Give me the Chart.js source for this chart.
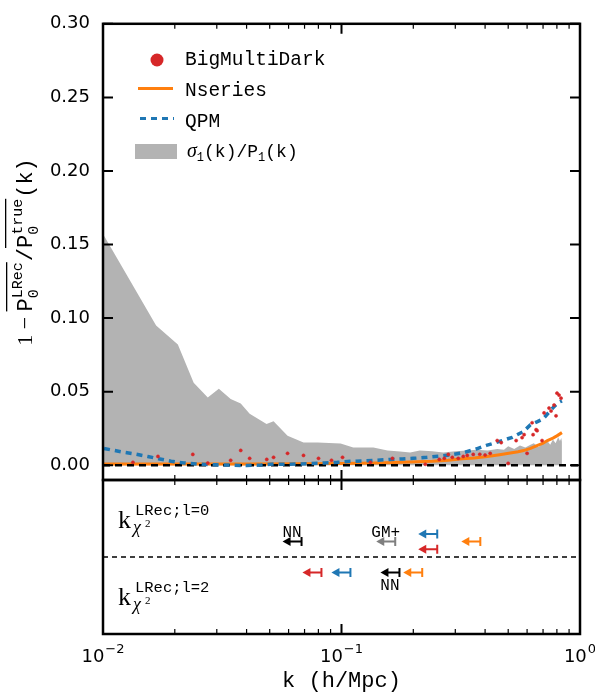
<!DOCTYPE html>
<html lang="en">
<head>
<meta charset="UTF-8">
<title>LRec residuals</title>
<script src="https://cdn.jsdelivr.net/npm/chart.js"></script>
<style>
  body { margin: 0; background: #fff; }
  #wrap { position: relative; width: 595px; height: 694px; }
  canvas { position: absolute; left: 0; top: 0; }
</style>
</head>
<body>
<div id="wrap">
  <canvas id="top" width="595" height="694"></canvas>
  <canvas id="bottom" width="595" height="694"></canvas>
</div>
<script>
// ---- data ----
const seriesNames = ['BigMultiDark', 'Nseries', 'QPM'];

// sigma_1(k)/P_1(k) band
const sigmaK = [0.0101, 0.0167, 0.0206, 0.0240, 0.0275, 0.0306, 0.0343, 0.0378, 0.0412, 0.0485, 0.0519, 0.0594,
  0.0693, 0.0794, 0.0991, 0.112, 0.136, 0.156, 0.176, 0.194, 0.213, 0.240, 0.267, 0.30, 0.335, 0.37, 0.41,
  0.45, 0.48, 0.50, 0.53, 0.56, 0.59, 0.62, 0.64, 0.67, 0.70, 0.73, 0.75, 0.77, 0.79, 0.81, 0.824, 0.835, 0.84];
const sigmaV = [0.156, 0.095, 0.082, 0.056, 0.046, 0.052, 0.045, 0.042, 0.035, 0.028, 0.030, 0.020,
  0.0155, 0.0155, 0.0148, 0.012, 0.012, 0.010, 0.0094, 0.0087, 0.010, 0.0095, 0.0087, 0.0095, 0.010, 0.0105, 0.010,
  0.011, 0.0105, 0.013, 0.011, 0.0135, 0.012, 0.014, 0.015, 0.0125, 0.015, 0.0165, 0.014, 0.0175, 0.015, 0.019, 0.0165, 0.0185, 0.016];

// Nseries
const nseriesK = [0.01, 0.02, 0.04, 0.07, 0.10, 0.14, 0.18, 0.24, 0.28, 0.32, 0.36, 0.40, 0.43, 0.46, 0.51,
  0.55, 0.58, 0.62, 0.66, 0.70, 0.73, 0.77, 0.80, 0.84];
const nseriesV = [0.0008, 0.0008, 0.0009, 0.0010, 0.0012, 0.0016, 0.0020, 0.0027, 0.0035, 0.0045, 0.0050, 0.0058,
  0.0065, 0.0072, 0.0084, 0.0092, 0.0100, 0.0115, 0.0134, 0.0150, 0.0168, 0.0185, 0.0200, 0.0222];

// QPM
const qpmK = [0.0101, 0.0119, 0.0135, 0.0154, 0.0171, 0.0193, 0.0218, 0.025, 0.030, 0.035, 0.040, 0.046, 0.052,
  0.060, 0.074, 0.085, 0.096, 0.109, 0.125, 0.141, 0.160, 0.180, 0.200, 0.228, 0.255, 0.284, 0.322, 0.369,
  0.405, 0.46, 0.52, 0.58, 0.62, 0.66, 0.70, 0.75, 0.78, 0.81, 0.84];
const qpmV = [0.0114, 0.0092, 0.0078, 0.0060, 0.0044, 0.0028, 0.0016, 0.0008, 0.0003, 0.0001, -0.0002, 0.0002, 0.0008,
  0.0006, 0.0012, 0.0016, 0.0020, 0.0027, 0.0030, 0.0034, 0.0040, 0.0043, 0.0047, 0.0054, 0.0062, 0.0070, 0.0084, 0.0112,
  0.0135, 0.0162, 0.0190, 0.0230, 0.0275, 0.0295, 0.0315, 0.0370, 0.0400, 0.0425, 0.0438];

// BigMultiDark points
const bmdK = [0.01335, 0.0170, 0.0238, 0.0275, 0.0343, 0.0378, 0.0412, 0.0486, 0.0519, 0.0594, 0.0693, 0.0801,
  0.0908, 0.1010, 0.1322, 0.1635, 0.2246, 0.2570, 0.2698, 0.2804, 0.2914, 0.3087, 0.3239, 0.3367, 0.3567,
  0.38, 0.40, 0.4202, 0.4496, 0.4673, 0.4998, 0.5398, 0.5718, 0.5830, 0.6000, 0.6298, 0.6358, 0.6545, 0.6609,
  0.6934, 0.7069, 0.7417, 0.7562, 0.7783, 0.7934, 0.8011, 0.8166, 0.8325];
const bmdV = [0.0020, 0.0060, 0.0074, 0.0015, 0.0034, 0.0101, 0.0047, 0.0040, 0.0054, 0.0081, 0.0067, 0.0047,
  0.0034, 0.0054, 0.0020, 0.0047, 0.0007, 0.0040, 0.0047, 0.0074, 0.0054, 0.0047, 0.0060, 0.0067, 0.0074,
  0.0075, 0.0070, 0.0081, 0.0168, 0.0154, 0.0013, 0.0168, 0.0188, 0.0208, 0.0081, 0.0289, 0.0208, 0.0242, 0.0235,
  0.0168, 0.0356, 0.0389, 0.0369, 0.0409, 0.0336, 0.0490, 0.0477, 0.0456];

const zeroK = [0.01, 1];
const zeroV = [0, 0];

// k_chi2 limits (bottom panel)
const l0Sets = ['NN', 'GM+', 'QPM', 'BigMultiDark', 'Nseries'];
const l0K = [0.068, 0.168, 0.252, 0.252, 0.382];
const l0Row = [0.2, 0.2, 0.3, 0.1, 0.2];
const l0Tag = ['NN', 'GM+', '', '', ''];
const l2Sets = ['BigMultiDark', 'QPM', 'NN', 'Nseries'];
const l2K = [0.0824, 0.109, 0.175, 0.218];
const l2Row = [-0.2, -0.2, -0.2, -0.2];
const l2Tag = ['', '', 'NN', ''];

const yTicks = [0, 0.05, 0.10, 0.15, 0.20, 0.25, 0.30];
const xMajor = [0.01, 0.1, 1];
const xMajorLabels = [['10', '\u22122'], ['10', '\u22121'], ['10', '0']];
const xMinor = [0.02, 0.03, 0.04, 0.05, 0.06, 0.07, 0.08, 0.09, 0.2, 0.3, 0.4, 0.5, 0.6, 0.7, 0.8, 0.9];

// ---- styles ----
const RED = '#d62728', BLUE = '#1f77b4', ORANGE = '#ff7f0e', GRAY = '#b3b3b3';
const MONO = '"Liberation Mono", "DejaVu Sans Mono", monospace';
const SERIF = '"Liberation Serif", "DejaVu Serif", serif';
const SANS = '"DejaVu Sans", sans-serif';
const setColor = { 'NN': '#000000', 'GM+': '#7f7f7f', 'QPM': BLUE, 'BigMultiDark': RED, 'Nseries': ORANGE };

const pts = (ks, vs) => ks.map((k, i) => ({ x: k, y: vs[i] }));

function rich(ctx, parts, x, y, draw) {
  let cx = x; const spans = [];
  for (const p of parts) {
    ctx.font = p.f;
    let w;
    if (p.t !== undefined) {
      w = ctx.measureText(p.t).width;
      if (draw) ctx.fillText(p.t, cx, y + (p.dy || 0));
    } else {
      const ws = ctx.measureText(p.sub).width, wp = ctx.measureText(p.sup).width;
      w = Math.max(ws, wp);
      if (draw) { ctx.fillText(p.sub, cx, y + p.subDy); ctx.fillText(p.sup, cx, y + p.supDy); }
    }
    spans.push([cx, cx + w]);
    cx += w + (p.gap || 0);
  }
  return { end: cx, spans };
}

function xTicks(chart, values, y, len, lw) {
  const { ctx, scales: { x } } = chart;
  ctx.lineWidth = lw; ctx.strokeStyle = '#000';
  ctx.beginPath();
  values.forEach(v => { const px = x.getPixelForValue(v); ctx.moveTo(px, y); ctx.lineTo(px, y + len); });
  ctx.stroke();
}

function frame(chart) {
  const { ctx, chartArea: a } = chart;
  ctx.save();
  ctx.setLineDash([]);
  ctx.strokeStyle = '#000'; ctx.lineWidth = 2.5;
  ctx.strokeRect(a.left, a.top, a.right - a.left, a.bottom - a.top);
  xTicks(chart, xMinor, a.top, 5, 1.2);
  xTicks(chart, xMinor, a.bottom, -5, 1.2);
  xTicks(chart, xMajor, a.top, 10, 2);
  xTicks(chart, xMajor, a.bottom, -10, 2);
  ctx.restore();
}

const topDecor = {
  id: 'topDecor',
  afterDraw(chart) {
    const { ctx, chartArea: a, scales: { y } } = chart;
    frame(chart);
    ctx.save();
    ctx.strokeStyle = '#000'; ctx.lineWidth = 2;
    ctx.beginPath();
    yTicks.forEach(v => {
      const py = y.getPixelForValue(v);
      ctx.moveTo(a.left, py); ctx.lineTo(a.left + 10, py);
      ctx.moveTo(a.right, py); ctx.lineTo(a.right - 10, py);
    });
    ctx.stroke();

    // legend
    ctx.textAlign = 'left'; ctx.textBaseline = 'alphabetic';
    ctx.fillStyle = RED;
    ctx.beginPath(); ctx.arc(157, 60, 6.5, 0, Math.PI * 2); ctx.fill();
    ctx.lineWidth = 3; ctx.strokeStyle = ORANGE;
    ctx.beginPath(); ctx.moveTo(138, 88.5); ctx.lineTo(173, 88.5); ctx.stroke();
    ctx.strokeStyle = BLUE; ctx.setLineDash([6, 5]);
    ctx.beginPath(); ctx.moveTo(140, 118.5); ctx.lineTo(174, 118.5); ctx.stroke();
    ctx.setLineDash([]);
    ctx.fillStyle = GRAY; ctx.fillRect(135, 144, 42, 15);
    ctx.fillStyle = '#000';
    ctx.font = `19.5px ${MONO}`;
    ctx.fillText(seriesNames[0], 185, 65);
    ctx.fillText(seriesNames[1], 185, 96);
    ctx.fillText(seriesNames[2], 185, 127);
    const sm = `12px ${MONO}`, md = `18px ${MONO}`;
    rich(ctx, [
      { t: '\u03c3', f: `italic 20px ${SERIF}` },
      { t: '1', f: sm, dy: 4 },
      { t: '(k)/P', f: md },
      { t: '1', f: sm, dy: 4 },
      { t: '(k)', f: md }
    ], 187, 157, true);

    // y-axis label, rotated
    ctx.translate(32, 252);
    ctx.rotate(-Math.PI / 2);
    const big = `22px ${MONO}`, small = `15px ${MONO}`;
    const parts = [
      { t: '1 \u2212 ', f: `22px ${SERIF}` },
      { t: 'P', f: big },
      { sub: '0', sup: 'LRec', f: small, subDy: 6, supDy: -10, gap: 1 },
      { t: '/', f: big },
      { t: 'P', f: big },
      { sub: '0', sup: 'true', f: small, subDy: 6, supDy: -10, gap: 1 },
      { t: '(k)', f: big }
    ];
    const m = rich(ctx, parts, 0, 0, false);
    const r = rich(ctx, parts, -m.end / 2, 0, true);
    ctx.fillRect(r.spans[1][0], -26, r.spans[2][1] - r.spans[1][0], 1.3);
    ctx.fillRect(r.spans[4][0], -27, r.spans[5][1] - r.spans[4][0], 1.3);
    ctx.restore();
  }
};

const limits = {
  id: 'limits',
  afterDatasetsDraw(chart) {
    const { ctx } = chart;
    ctx.save();
    chart.data.datasets.forEach((ds, di) => {
      if (!ds.sets) return;
      const meta = chart.getDatasetMeta(di);
      meta.data.forEach((el, i) => {
        const xb = el.x, y = el.y, c = setColor[ds.sets[i]];
        const L = 19, head = 8, hh = 4.5;
        ctx.strokeStyle = c; ctx.fillStyle = c; ctx.lineWidth = 2;
        ctx.beginPath();
        ctx.moveTo(xb, y - 4.5); ctx.lineTo(xb, y + 4.5);
        ctx.moveTo(xb, y); ctx.lineTo(xb - L + head - 1, y);
        ctx.stroke();
        ctx.beginPath();
        ctx.moveTo(xb - L, y); ctx.lineTo(xb - L + head, y - hh); ctx.lineTo(xb - L + head, y + hh);
        ctx.closePath(); ctx.fill();
        const tag = ds.tags[i];
        if (tag) {
          ctx.fillStyle = '#000';
          ctx.font = `16px ${MONO}`;
          ctx.textAlign = 'center'; ctx.textBaseline = 'alphabetic';
          ctx.fillText(tag, xb - L / 2, ds.tagBelow ? y + 18 : y - 5);
        }
      });
    });
    ctx.restore();
  },
  afterDraw(chart) {
    const { ctx, scales: { x } } = chart;
    frame(chart);
    ctx.save();
    ctx.fillStyle = '#000'; ctx.textAlign = 'left'; ctx.textBaseline = 'alphabetic';
    xMajor.forEach((v, i) => {
      const [base, sup] = xMajorLabels[i];
      ctx.font = `18px ${SANS}`; const w1 = ctx.measureText(base).width;
      ctx.font = `13px ${SANS}`; const w2 = ctx.measureText(sup).width;
      const x0 = x.getPixelForValue(v) - (w1 + w2 + 1) / 2;
      ctx.font = `18px ${SANS}`; ctx.fillText(base, x0, 662);
      ctx.font = `13px ${SANS}`; ctx.fillText(sup, x0 + w1 + 1, 653);
    });
    ctx.font = `22px ${MONO}`; ctx.textAlign = 'center';
    ctx.fillText('k (h/Mpc)', (chart.chartArea.left + chart.chartArea.right) / 2, 687);

    // k_chi2 row labels
    ctx.textAlign = 'left';
    [['0', 528], ['2', 605]].forEach(([l, b]) => {
      ctx.font = `26px ${SERIF}`; ctx.fillText('k', 118, b);
      ctx.font = `15.5px ${MONO}`; ctx.fillText('LRec;l=' + l, 135, b - 13);
      ctx.font = `italic 18px ${SERIF}`; ctx.fillText('\u03c7', 133, b + 5);
      ctx.font = `11px ${SERIF}`; ctx.fillText('2', 145, b - 1);
    });
    ctx.restore();
  }
};

const base = {
  responsive: false, animation: false, devicePixelRatio: 1, events: [],
  plugins: { legend: { display: false }, tooltip: { enabled: false } }
};

new Chart(document.getElementById('top'), {
  type: 'line',
  data: {
    datasets: [
      { data: pts(bmdK, bmdV), showLine: false, pointRadius: 1.6, pointBackgroundColor: RED,
        pointBorderColor: RED, pointBorderWidth: 0.5, order: 1 },
      { data: pts(qpmK, qpmV), borderColor: BLUE, borderWidth: 3.5, borderDash: [6, 5], pointRadius: 0, order: 2 },
      { data: pts(zeroK, zeroV), borderColor: '#000', borderWidth: 2.5, borderDash: [7, 5], pointRadius: 0, order: 3 },
      { data: pts(nseriesK, nseriesV), borderColor: ORANGE, borderWidth: 3, pointRadius: 0, order: 4 },
      { data: pts(sigmaK, sigmaV), borderColor: 'rgba(0,0,0,0)', borderWidth: 1, backgroundColor: GRAY,
        fill: 'origin', pointRadius: 0, order: 5 }
    ]
  },
  options: Object.assign({}, base, {
    layout: { padding: { left: 0, right: 15, top: 18, bottom: 214 } },
    scales: {
      x: { type: 'logarithmic', min: 0.01, max: 1, display: false },
      y: {
        min: -0.01, max: 0.3,
        grid: { display: false, drawTicks: false }, border: { display: false },
        ticks: { padding: 13, color: '#000', font: { family: 'DejaVu Sans', size: 18 },
          callback: v => v.toFixed(2) },
        afterBuildTicks: s => { s.ticks = yTicks.map(v => ({ value: v })); },
        afterFit: s => { s.width = 103; }
      }
    }
  }),
  plugins: [topDecor]
});

new Chart(document.getElementById('bottom'), {
  type: 'scatter',
  data: {
    datasets: [
      { type: 'line', data: pts(zeroK, zeroV), borderColor: '#000', borderWidth: 1.5, borderDash: [5, 4], pointRadius: 0 },
      { data: pts(l0K, l0Row), pointRadius: 0, sets: l0Sets, tags: l0Tag, tagBelow: false },
      { data: pts(l2K, l2Row), pointRadius: 0, sets: l2Sets, tags: l2Tag, tagBelow: true }
    ]
  },
  options: Object.assign({}, base, {
    layout: { padding: { left: 103, right: 15, top: 480, bottom: 60 } },
    scales: {
      x: { type: 'logarithmic', min: 0.01, max: 1, display: false },
      y: { min: -1, max: 1, display: false }
    }
  }),
  plugins: [limits]
});
</script>
</body>
</html>
